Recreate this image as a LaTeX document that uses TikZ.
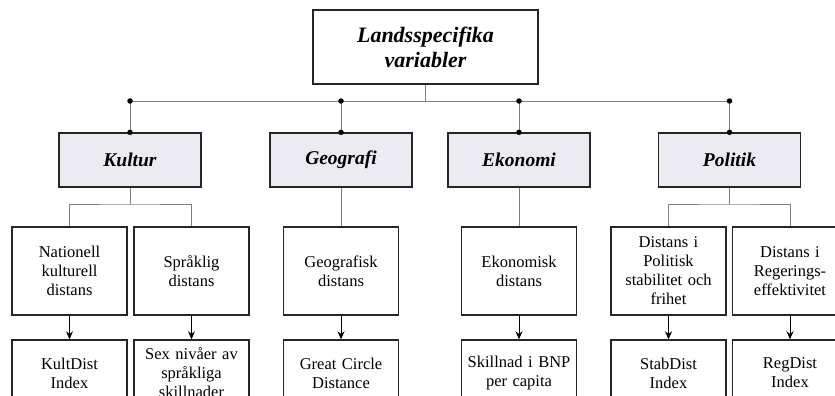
\documentclass[tikz,border=0pt]{standalone}
\usepackage{fontspec}
\setmainfont{Liberation Serif}
\usetikzlibrary{arrows.meta}
\definecolor{catGrey}{RGB}{235,235,241}
\tikzstyle{topBox} = [rectangle, draw=black!85, line width=1.4pt, minimum width=225pt, minimum height=74pt, inner sep=0pt, align=center, font=\fontsize{22}{25}\selectfont\bfseries\itshape]
\tikzstyle{catBox} = [rectangle, draw=black!85, fill=catGrey, line width=1.4pt, minimum width=142pt, minimum height=54pt, inner sep=0pt, font=\fontsize{19.5}{22}\selectfont\bfseries\itshape]
\tikzstyle{varBox} = [rectangle, draw=black!85, line width=1.4pt, minimum width=115pt, minimum height=88pt, inner sep=0pt, text width=110pt, align=center, font=\fontsize{16.5}{19}\selectfont]
\tikzstyle{idxBox} = [varBox, minimum height=66pt]
\tikzstyle{treeLine} = [gray, line width=1pt]
\tikzstyle{arrow} = [line width=0.9pt, -{Stealth[length=8pt,width=7pt]}]
\tikzstyle{dot} = [circle, fill=black, inner sep=0pt, minimum size=5.5pt]

\begin{document}
\begin{tikzpicture}[x=1pt, y=-1pt]
		\clip (0,0) rectangle (835,396);
		\node (top) [topBox] at (425.5,47) {Landsspecifika\\variabler};
		\node (kultur) [catBox] at (130,160) {Kultur};
		\node (geografi) [catBox] at (341,160) {Geografi};
		\node (ekonomi) [catBox] at (519,160) {Ekonomi};
		\node (politik) [catBox] at (729.5,160) {Politik};
		\node (nat) [varBox] at (69.5,271) {Nationell\\kulturell\\distans};
		\node (spr) [varBox] at (191.5,271) {Språklig\\distans};
		\node (geo) [varBox] at (341,271) {Geografisk\\distans};
		\node (eko) [varBox] at (519,271) {Ekonomisk\\distans};
		\node (pol) [varBox] at (668.5,271) {Distans i\\Politisk\\stabilitet och\\frihet};
		\node (reg) [varBox] at (790,271) {Distans i\\Regerings-\\effektivitet};
		\node (natIdx) [idxBox] at (69.5,373) {KultDist\\Index};
		\node (sprIdx) [idxBox] at (191.5,373) {Sex nivåer av\\språkliga\\skillnader};
		\node (geoIdx) [idxBox] at (341,373) {Great Circle\\Distance};
		\node (ekoIdx) [idxBox] at (519,373) {Skillnad i BNP\\per capita};
		\node (polIdx) [idxBox] at (668.5,373) {StabDist\\Index};
		\node (regIdx) [idxBox] at (790,373) {RegDist\\Index};
		\coordinate (bus) at (0,101);
		\coordinate (kfork) at (130,204);
		\coordinate (pfork) at (729.5,204);
		\draw [treeLine] (top.south) -- (top.south |- bus);
		\draw [treeLine] (kultur.north |- bus) -- (politik.north |- bus);
		\foreach \c in {kultur, geografi, ekonomi, politik} {
			\draw [treeLine] (\c.north |- bus) -- (\c.north);
			\node [dot] at (\c.north |- bus) {};
			\node [dot] at (\c.north) {};
		}
		\draw [treeLine] (kultur.south) -- (kfork);
		\draw [treeLine] (nat.north) |- (kfork) -| (spr.north);
		\draw [treeLine] (politik.south) -- (pfork);
		\draw [treeLine] (pol.north) |- (pfork) -| (reg.north);
		\draw [treeLine] (geografi) -- (geo);
		\draw [treeLine] (ekonomi) -- (eko);
		\draw [arrow] (nat) -- (natIdx);
		\draw [arrow] (spr) -- (sprIdx);
		\draw [arrow] (geo) -- (geoIdx);
		\draw [arrow] (eko) -- (ekoIdx);
		\draw [arrow] (pol) -- (polIdx);
		\draw [arrow] (reg) -- (regIdx);
	\end{tikzpicture}
\end{document}
